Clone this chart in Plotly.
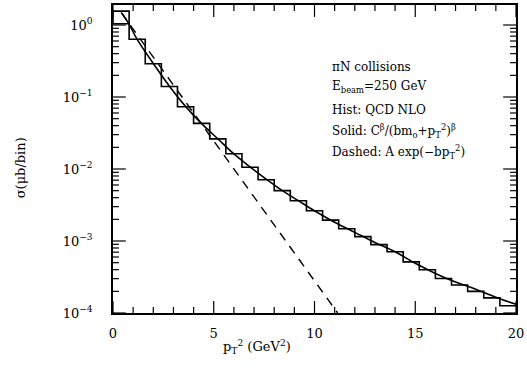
import math
import plotly.graph_objects as go

# ---- data ----
bin_edges = [round(0.8 * i, 1) for i in range(26)]  # 0 .. 20 GeV^2, 25 bins
hist_values = [1.56, 0.634, 0.29, 0.14, 0.0734, 0.0431, 0.0262, 0.0163, 0.0106, 0.0071,
               0.00501, 0.00363, 0.00263, 0.00195, 0.00148, 0.00115, 0.00089, 0.000708,
               0.000513, 0.000398, 0.000302, 0.000245, 0.000200, 0.000162, 0.000126]
first_bin_floor = 1.04

solid_x = [0.45, 0.8, 1.2, 2.0, 2.8, 3.6, 4.4, 5.2, 6.0, 6.8, 7.6, 8.4, 9.2, 10.0,
           11.0, 12.0, 13.0, 14.0, 15.0, 16.0, 17.0, 18.0, 19.0, 20.0]
solid_log = [0.16, 0.01, -0.20, -0.535, -0.85, -1.13, -1.37, -1.58, -1.79, -1.97, -2.14,
             -2.30, -2.44, -2.58, -2.74, -2.88, -3.02, -3.15, -3.31, -3.45, -3.57, -3.67,
             -3.78, -3.88]
solid_y = [10 ** v for v in solid_log]

dashed_x = [0.4, 11.15]
dashed_y = [1.5, 1.0e-4]

x_ticks = [0, 5, 10, 15, 20]
y_ticks = [1e-4, 1e-3, 1e-2, 1e-1, 1e0]
y_ticktext = ["10<sup>−4</sup>", "10<sup>−3</sup>", "10<sup>−2</sup>", "10<sup>−1</sup>", "10<sup>0</sup>"]

# ---- build histogram step path ----
hx = [bin_edges[1], bin_edges[0]]
hy = [first_bin_floor, first_bin_floor]
for i, v in enumerate(hist_values):
    hx += [bin_edges[i], bin_edges[i + 1]]
    hy += [v, v]

FONT = "DejaVu Serif"
XR = [0, 20]
YR = [-4, 0.278]
W, H = 527, 369
ML, MR, MT, MB = 113, 5, 3, 56
PW, PH = W - ML - MR, H - MT - MB

fig = go.Figure()
fig.add_trace(go.Scatter(x=hx, y=hy, mode="lines", line=dict(color="black", width=1.6)))
fig.add_trace(go.Scatter(x=solid_x, y=solid_y, mode="lines", line_shape="spline",
                         line=dict(color="black", width=1.6)))
fig.add_trace(go.Scatter(x=dashed_x, y=dashed_y, mode="lines",
                         line=dict(color="black", width=1.4, dash="9px,7px")))

fig.update_layout(
    width=W, height=H, margin=dict(l=ML, r=MR, t=MT, b=MB),
    plot_bgcolor="white", paper_bgcolor="white", showlegend=False,
    xaxis=dict(range=XR, tickmode="array", tickvals=x_ticks, ticks="",
               showline=True, linecolor="black", linewidth=1.6, mirror=True,
               showgrid=False, zeroline=False, ticklabelstandoff=8,
               ticklabeloverflow="allow",
               tickfont=dict(family=FONT, size=13, color="black")),
    yaxis=dict(type="log", range=YR, tickmode="array", tickvals=y_ticks,
               ticktext=y_ticktext, ticks="",
               showline=True, linecolor="black", linewidth=1.6, mirror=True,
               showgrid=False, zeroline=False, ticklabelstandoff=16,
               tickfont=dict(family=FONT, size=13, color="black")),
)

# ---- tick marks on all four sides (styling, positioned from the axis ticks) ----
def tick_line(**kw):
    fig.add_shape(type="line", line=dict(color="black", width=1.2), layer="above", **kw)

for v in range(0, 21):
    L = 12 if v % 5 == 0 else 6
    fy = L / PH
    tick_line(xref="x", yref="paper", x0=v, x1=v, y0=0, y1=fy)
    tick_line(xref="x", yref="paper", x0=v, x1=v, y0=1, y1=1 - fy)

for k in range(-4, 1):
    for m in range(1, 10):
        lv = k + math.log10(m)
        if lv > YR[1]:
            continue
        f = (lv - YR[0]) / (YR[1] - YR[0])
        L = 13 if m == 1 else 6
        fx = L / PW
        tick_line(xref="paper", yref="paper", x0=0, x1=fx, y0=f, y1=f)
        tick_line(xref="paper", yref="paper", x0=1, x1=1 - fx, y0=f, y1=f)

legend_lines = [
    ("πN collisions", 0.80),
    ("E<sub>beam</sub>=250 GeV", 0.735),
    ("Hist: QCD NLO", 0.658),
    ("Solid: C<sup>β</sup>/(bm<sub>o</sub>+p<sub>T</sub><sup>2</sup>)<sup>β</sup>", 0.590),
    ("Dashed: A exp(−bp<sub>T</sub><sup>2</sup>)", 0.523),
]
for txt, yy in legend_lines:
    fig.add_annotation(text=txt, xref="paper", yref="paper", x=0.538, y=yy,
                       xanchor="left", yanchor="middle", showarrow=False,
                       font=dict(family=FONT, size=12, color="black"))

fig.add_annotation(text="p<sub>T</sub><sup>2</sup> (GeV<sup>2</sup>)", xref="paper", yref="paper",
                   x=(259 - ML) / PW, y=-(347 - 313) / PH, xanchor="center", yanchor="middle",
                   showarrow=False, font=dict(family=FONT, size=13, color="black"))
fig.add_annotation(text="σ(μb/bin)", xref="paper", yref="paper",
                   x=(20 - ML) / PW, y=(313 - 167) / PH, xanchor="center", yanchor="middle",
                   textangle=-90, showarrow=False, font=dict(family=FONT, size=13, color="black"))

fig.write_html("out.html")
